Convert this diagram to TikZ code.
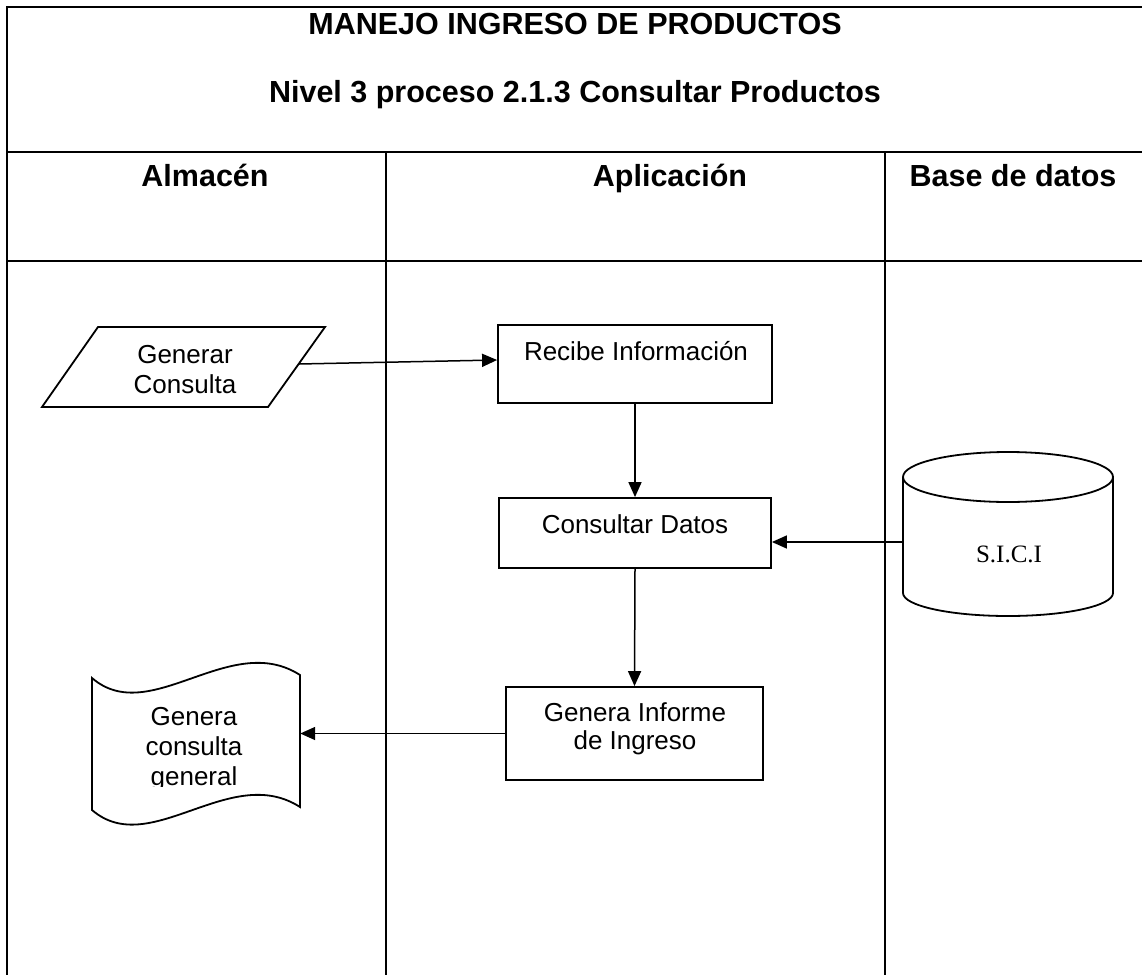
\documentclass[tikz,border=0pt]{standalone}
\usepackage{fontspec}
\setmainfont{Liberation Sans}
\newfontfamily\sicifont{Liberation Serif}
\usetikzlibrary{arrows.meta}
\begin{document}
\begin{tikzpicture}[x=1pt,y=-1pt,
  frame/.style={line width=2pt},
  shp/.style={line width=1.8pt},
  box/.style={draw, line width=1.8pt, inner sep=0pt},
  arr/.style={line width=1.5pt, -{Triangle[length=15pt,width=13pt]}},
  hd/.style={font=\bfseries\fontsize{30.5}{35}\selectfont, anchor=base, inner sep=0pt},
  lbl/.style={font=\fontsize{26}{30}\selectfont, anchor=base, inner sep=0pt},
]
\useasboundingbox (0,0) rectangle (1142,974);
\clip (0,0) rectangle (1142,974);
% table frame
\draw[frame] (7,7) rectangle (1147,990);
\draw[frame] (7,152) -- (1150,152);
\draw[frame] (7,261) -- (1150,261);
\draw[frame] (386,152) -- (386,990);
\draw[frame] (885,152) -- (885,990);
% titles
\node[hd] (title) at (575,35) {MANEJO INGRESO DE PRODUCTOS};
\node[hd] (subtitle) at (575,102) {Nivel 3 proceso 2.1.3 Consultar Productos};
\node[hd] (h1) at (205,186) {Almacén};
\node[hd] (h2) at (670,186) {Aplicación};
\node[hd] (h3) at (1013,186) {Base de datos};
% parallelogram
\draw[shp] (98,327) -- (325,327) -- (268,407) -- (42,407) -- cycle;
\coordinate (parR) at (299,364);
\node[lbl] (genT) at (185,363) {\begin{tabular}[t]{@{}c@{}}Generar\\Consulta\end{tabular}};
% process boxes
\node[box, minimum width=274pt, minimum height=78pt] (rec) at (635,364) {};
\node[lbl] (recT) at (636,360) {Recibe Información};
\node[box, minimum width=272pt, minimum height=70pt] (con) at (635,533) {};
\node[lbl] (conT) at (635,533) {Consultar Datos};
\node[box, minimum width=257pt, minimum height=93pt] (inf) at (634.5,733.5) {};
\node[lbl, font=\fontsize{26}{28.5}\selectfont] (infT) at (635,721) {\begin{tabular}[t]{@{}c@{}}Genera Informe\\de Ingreso\end{tabular}};
% database cylinder
\node[inner sep=0pt, minimum width=210pt, minimum height=164pt] (db) at (1008,534) {};
\draw[shp] (1008,477) ellipse [x radius=105pt, y radius=25pt];
\draw[shp] (903,477) -- (903,593) arc[start angle=180, end angle=360, x radius=105pt, y radius=23pt] -- (1113,477);
\node[font=\sicifont\fontsize{25}{30}\selectfont, anchor=base, inner sep=0pt] (dbT) at (1009,562) {S.I.C.I};
\coordinate (dbIn) at (903,542);
% document shape
\node[inner sep=0pt, minimum width=208pt, minimum height=162pt] (doc) at (196,745) {};
\draw[shp] (92,678) .. controls (150,728) and (230,630) .. (300,675) -- (300,807)
  .. controls (230,762) and (150,860) .. (92,810) -- cycle;
\begin{scope}
\clip (80,640) rectangle (320,786);
\node[lbl] (docT) at (194,725) {\begin{tabular}[t]{@{}c@{}}Genera\\consulta\\general\end{tabular}};
\end{scope}
% connectors
\draw[arr] (parR) -- ([yshift=4pt]rec.west);
\draw[arr] (rec.south) -- (con.north);
\draw[arr] (dbIn) -- (con.east |- dbIn);
\draw[arr] (con.south) -- (inf.north);
\draw[arr] (inf.west) -- (inf.west -| doc.east);
\end{tikzpicture}
\end{document}
